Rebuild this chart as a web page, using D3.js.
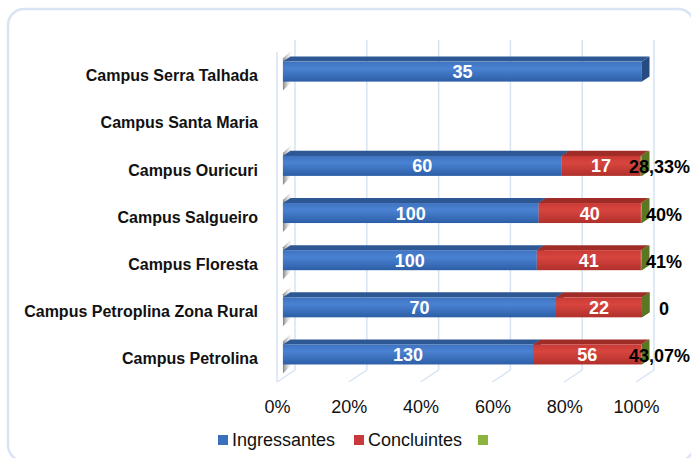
<!DOCTYPE html>
<html>
<head>
<meta charset="utf-8">
<script src="https://cdn.jsdelivr.net/npm/d3@7"></script>
<style>
  html, body { margin: 0; padding: 0; background: #fff; }
  svg { display: block; font-family: "Liberation Sans", Arial, sans-serif; }
  .cat-label { font-size: 16px; font-weight: bold; fill: #111; }
  .tick-label { font-size: 18px; fill: #111; }
  .in-label { font-size: 18px; font-weight: bold; fill: #fff; }
  .out-label { font-size: 18px; font-weight: bold; fill: #000; }
  .legend-text { font-size: 18px; fill: #111; }
</style>
</head>
<body>
<div id="chart"></div>
<script>
// Data
const categories = ['Campus Serra Talhada', 'Campus Santa Maria', 'Campus Ouricuri', 'Campus Salgueiro',
  'Campus Floresta', 'Campus Petroplina Zona Rural', 'Campus Petrolina'];
const ingressantes = [35, null, 60, 100, 100, 70, 130];
const concluintes = [null, null, 17, 40, 41, 22, 56];
const taxa = [null, null, 0.2833, 0.40, 0.41, 0, 0.4307];
const seriesNames = ['Ingressantes', 'Concluintes', ''];
const tickValues = [0, 0.2, 0.4, 0.6, 0.8, 1];

const width = 691, height = 458;

const svg = d3.select('#chart').append('svg')
  .attr('width', width)
  .attr('height', height);

// chart frame
svg.append('rect')
  .attr('x', 8).attr('y', 9)
  .attr('width', 686).attr('height', 452)
  .attr('rx', 16)
  .attr('fill', '#fff')
  .attr('stroke', '#d8e4f3')
  .attr('stroke-width', 2.5);

// 3D projection: front plane + depth offset
const DX = 18, DY = -12;
const x = d3.scaleLinear().domain([0, 1]).range([277, 636]);
const y = d3.scaleBand().domain(categories).range([52, 382]);
const P = (v, py, depth) => [x(v) + depth * DX, py + depth * DY];

const gridColor = '#d6e3f3';
const grid = svg.append('g');

// back wall gridlines
tickValues.forEach(t => {
  const a = P(t, 52, 1), b = P(t, 382, 1);
  grid.append('line')
    .attr('x1', a[0]).attr('y1', a[1]).attr('x2', b[0]).attr('y2', b[1])
    .attr('stroke', gridColor).attr('stroke-width', 1.5);
  // floor lines
  const f = P(t, 382, 0);
  grid.append('line')
    .attr('x1', f[0]).attr('y1', f[1]).attr('x2', b[0]).attr('y2', b[1])
    .attr('stroke', gridColor).attr('stroke-width', 1.5);
});
// side wall front edge
grid.append('line')
  .attr('x1', x(0)).attr('y1', 52).attr('x2', x(0)).attr('y2', 382)
  .attr('stroke', gridColor).attr('stroke-width', 1.5);

// gradients
const defs = svg.append('defs');
function vGrad(id, top, mid, bot) {
  const g = defs.append('linearGradient').attr('id', id)
    .attr('x1', 0).attr('y1', 0).attr('x2', 0).attr('y2', 1);
  g.append('stop').attr('offset', '0%').attr('stop-color', top);
  g.append('stop').attr('offset', '35%').attr('stop-color', mid);
  g.append('stop').attr('offset', '100%').attr('stop-color', bot);
}
vGrad('gBlue', '#3f73c0', '#4a82d2', '#2c5ea6');
vGrad('gRed', '#c93a35', '#d8453f', '#b0302b');
vGrad('gGreen', '#85aa3a', '#93b944', '#6f9030');
const shadow = defs.append('linearGradient').attr('id', 'gShadow')
  .attr('x1', 0).attr('y1', 0).attr('x2', 1).attr('y2', 0);
shadow.append('stop').attr('offset', '0%').attr('stop-color', '#777').attr('stop-opacity', 0.9);
shadow.append('stop').attr('offset', '100%').attr('stop-color', '#ddd').attr('stop-opacity', 0.2);

const palette = [
  { front: 'url(#gBlue)', top: '#2d5894', side: '#264b80' },
  { front: 'url(#gRed)', top: '#a02c28', side: '#8c2622' },
  { front: 'url(#gGreen)', top: '#6a8a2c', side: '#5a7824' }
];

const barH = 20, d0 = 0.33, d1 = 0.75;
const fmtLocale = d3.formatLocale({ decimal: ',', thousands: '.', grouping: [3], currency: ['', ''] });
const pct = fmtLocale.format('.2~%');
const poly = pts => pts.map(p => p.join(',')).join(' ');

const bars = svg.append('g');
const labels = svg.append('g');

categories.forEach((c, i) => {
  const vals = [ingressantes[i], concluintes[i], taxa[i]];
  const total = d3.sum(vals.map(v => v || 0));
  if (total === 0) return;
  const yTop = y(c) + (y.bandwidth() - barH) / 2;
  const yBot = yTop + barH;

  // shadow at the left end
  const s0 = P(0, yTop, d0), s1 = P(0, yBot, d0);
  bars.append('polygon')
    .attr('points', poly([[s0[0], s0[1] - 3], [s0[0] + 8, s0[1] - 11], [s1[0] + 8, s1[1] + 1], [s1[0], s1[1] + 9]]))
    .attr('fill', 'url(#gShadow)');

  let acc = 0;
  vals.forEach((v, k) => {
    if (v == null) return;
    const a = acc / total, b = (acc + v) / total;
    acc += v;
    const col = palette[k];
    const ftl = P(a, yTop, d0), ftr = P(b, yTop, d0), fbr = P(b, yBot, d0), fbl = P(a, yBot, d0);
    const btl = P(a, yTop, d1), btr = P(b, yTop, d1), bbr = P(b, yBot, d1);
    // right end face
    bars.append('polygon').attr('points', poly([ftr, btr, bbr, fbr])).attr('fill', col.side);
    // top face
    bars.append('polygon').attr('points', poly([ftl, btl, btr, ftr])).attr('fill', col.top);
    // front face
    bars.append('rect')
      .attr('x', ftl[0]).attr('y', ftl[1])
      .attr('width', Math.max(0, ftr[0] - ftl[0])).attr('height', barH)
      .attr('fill', col.front);

    const cy = (ftl[1] + fbl[1]) / 2;
    if (k < 2) {
      labels.append('text')
        .attr('class', 'in-label')
        .attr('x', (ftl[0] + ftr[0]) / 2)
        .attr('y', cy)
        .attr('dy', '0.36em')
        .attr('text-anchor', 'middle')
        .text(v);
    } else {
      const t = labels.append('text')
        .attr('class', 'out-label')
        .attr('y', cy + 1)
        .attr('dy', '0.36em')
        .attr('text-anchor', 'middle')
        .text(v === 0 ? '0' : pct(v));
      const w = t.node().getComputedTextLength();
      const cx = Math.min(ftr[0] + 22, 690 - w / 2);
      t.attr('x', cx);
    }
  });
});

// category axis
svg.append('g')
  .attr('transform', 'translate(260,0)')
  .call(d3.axisLeft(y).tickSize(0).tickPadding(2))
  .call(g => g.select('.domain').remove())
  .selectAll('text')
  .attr('class', 'cat-label')
  .attr('dy', '0.36em');

// value axis
svg.append('g')
  .attr('transform', 'translate(0,382)')
  .call(d3.axisBottom(x).tickValues(tickValues).tickFormat(d3.format('.0%')).tickSize(0).tickPadding(18))
  .call(g => g.select('.domain').remove())
  .selectAll('text')
  .attr('class', 'tick-label');

// legend
const legendX = [218, 354, 478];
const legend = svg.append('g');
seriesNames.forEach((name, k) => {
  legend.append('rect')
    .attr('x', legendX[k]).attr('y', 435)
    .attr('width', 10).attr('height', 10)
    .attr('fill', ['#3a70bf', '#c9383a', '#8db33f'][k]);
  legend.append('text')
    .attr('class', 'legend-text')
    .attr('x', legendX[k] + 14).attr('y', 446)
    .text(name);
});
</script>
</body>
</html>
